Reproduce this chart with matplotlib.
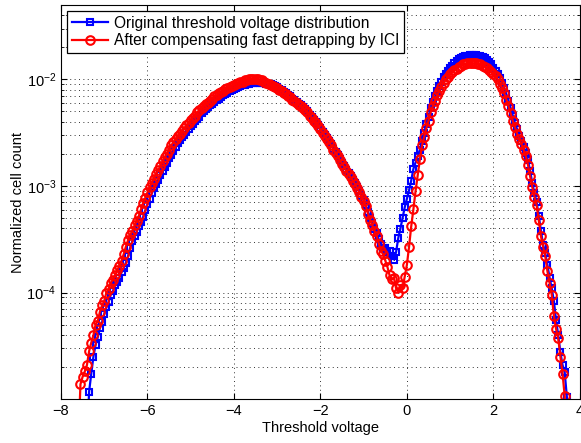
import numpy as np
import matplotlib
matplotlib.use('Agg')
import matplotlib.pyplot as plt

plt.rcParams['font.family'] = ['Liberation Sans', 'DejaVu Sans']

# threshold voltage grid: first value and spacing (V)
v_step = 0.05
red_v0 = -7.60
blue_v0 = -7.40

# log10 of normalized cell count
orig_log10 = [
    -5.40, -4.93, -4.76, -4.60, -4.49, -4.42, -4.33, -4.28, -4.20, -4.14, -4.09, -4.02, -3.99, -3.93, -3.90, -3.86, -3.81, -3.77, -3.72, -3.66,
    -3.58, -3.52, -3.47, -3.43, -3.38, -3.34, -3.29, -3.23, -3.17, -3.12, -3.07, -3.02, -2.98, -2.94, -2.90, -2.86, -2.82, -2.78, -2.74, -2.71,
    -2.67, -2.63, -2.60, -2.57, -2.54, -2.52, -2.49, -2.47, -2.44, -2.42, -2.39, -2.37, -2.35, -2.32, -2.30, -2.28, -2.26, -2.24, -2.23, -2.21,
    -2.19, -2.18, -2.17, -2.15, -2.14, -2.13, -2.11, -2.10, -2.09, -2.08, -2.07, -2.06, -2.05, -2.05, -2.04, -2.04, -2.03, -2.03, -2.03, -2.03,
    -2.03, -2.03, -2.03, -2.04, -2.04, -2.04, -2.05, -2.06, -2.07, -2.09, -2.10, -2.12, -2.13, -2.15, -2.16, -2.18, -2.19, -2.21, -2.23, -2.24,
    -2.26, -2.28, -2.30, -2.33, -2.35, -2.38, -2.40, -2.43, -2.46, -2.49, -2.52, -2.55, -2.58, -2.61, -2.65, -2.68, -2.71, -2.75, -2.78, -2.81,
    -2.85, -2.88, -2.91, -2.94, -2.97, -3.01, -3.05, -3.09, -3.13, -3.18, -3.24, -3.30, -3.35, -3.40, -3.44, -3.50, -3.54, -3.58, -3.58, -3.62,
    -3.61, -3.66, -3.69, -3.62, -3.49, -3.40, -3.30, -3.20, -3.12, -3.04, -2.95, -2.84, -2.78, -2.72, -2.66, -2.58, -2.50, -2.42, -2.35, -2.27,
    -2.21, -2.16, -2.11, -2.06, -2.02, -1.98, -1.95, -1.92, -1.89, -1.87, -1.85, -1.83, -1.81, -1.80, -1.79, -1.78, -1.78, -1.77, -1.77, -1.77,
    -1.77, -1.78, -1.78, -1.79, -1.80, -1.82, -1.84, -1.86, -1.89, -1.92, -1.95, -1.99, -2.03, -2.08, -2.14, -2.20, -2.27, -2.34, -2.41, -2.47,
    -2.53, -2.58, -2.63, -2.69, -2.76, -2.86, -2.97, -3.07, -3.15, -3.28, -3.42, -3.55, -3.63, -3.74, -3.86, -3.96, -4.08, -4.26, -4.40, -4.56,
    -4.68, -4.75, -4.98, -5.40,
]

comp_log10 = [
    -5.40, -4.86, -4.79, -4.74, -4.68, -4.55, -4.47, -4.40, -4.30, -4.27, -4.18, -4.12, -4.08, -4.00, -3.97, -3.91, -3.88, -3.84, -3.79, -3.75,
    -3.70, -3.64, -3.57, -3.51, -3.46, -3.42, -3.37, -3.33, -3.28, -3.22, -3.16, -3.11, -3.06, -3.01, -2.97, -2.93, -2.89, -2.85, -2.81, -2.77,
    -2.73, -2.70, -2.66, -2.62, -2.59, -2.56, -2.53, -2.51, -2.48, -2.46, -2.43, -2.41, -2.38, -2.36, -2.34, -2.31, -2.29, -2.27, -2.25, -2.23,
    -2.22, -2.20, -2.18, -2.16, -2.15, -2.13, -2.12, -2.11, -2.09, -2.08, -2.07, -2.06, -2.05, -2.04, -2.03, -2.02, -2.02, -2.01, -2.01, -2.00,
    -2.00, -2.00, -2.00, -2.00, -2.01, -2.01, -2.02, -2.03, -2.04, -2.05, -2.06, -2.07, -2.08, -2.10, -2.11, -2.13, -2.14, -2.16, -2.17, -2.19,
    -2.20, -2.22, -2.24, -2.25, -2.27, -2.29, -2.31, -2.34, -2.36, -2.39, -2.41, -2.44, -2.47, -2.50, -2.53, -2.56, -2.59, -2.62, -2.66, -2.69,
    -2.72, -2.76, -2.79, -2.82, -2.86, -2.89, -2.92, -2.95, -2.98, -3.02, -3.06, -3.10, -3.14, -3.19, -3.26, -3.32, -3.37, -3.42, -3.47, -3.54,
    -3.61, -3.64, -3.70, -3.76, -3.84, -3.87, -3.86, -3.96, -4.00, -3.93, -3.96, -3.85, -3.74, -3.57, -3.38, -3.22, -3.05, -2.90, -2.75, -2.62,
    -2.54, -2.46, -2.39, -2.31, -2.25, -2.20, -2.15, -2.11, -2.07, -2.03, -2.00, -1.98, -1.95, -1.93, -1.91, -1.90, -1.88, -1.87, -1.86, -1.86,
    -1.85, -1.85, -1.85, -1.85, -1.85, -1.86, -1.86, -1.87, -1.88, -1.89, -1.91, -1.93, -1.95, -1.97, -2.00, -2.04, -2.08, -2.13, -2.19, -2.25,
    -2.32, -2.39, -2.45, -2.51, -2.56, -2.61, -2.66, -2.72, -2.80, -2.91, -3.01, -3.10, -3.18, -3.32, -3.47, -3.57, -3.66, -3.80, -3.91, -4.02,
    -4.22, -4.34, -4.43, -4.60, -4.76, -4.97, -5.40,
]

labels = ['Original threshold voltage distribution',
          'After compensating fast detrapping by ICI']

orig_v = blue_v0 + v_step * np.arange(len(orig_log10))
comp_v = red_v0 + v_step * np.arange(len(comp_log10))
orig_y = 10.0 ** np.array(orig_log10)
comp_y = 10.0 ** np.array(comp_log10)

fig = plt.figure(figsize=(5.81, 4.43), dpi=100)
ax = fig.add_axes([0.105, 0.099, 0.893, 0.89])

ax.semilogy(orig_v, orig_y, '-s', color='b', lw=1.6, ms=5, mfc='none', mew=1.5,
            label=labels[0])
ax.semilogy(comp_v, comp_y, '-o', color='r', lw=1.6, ms=6.2, mfc='none', mew=1.5,
            label=labels[1])

ax.set_xlim(-8, 4)
ax.set_ylim(1e-5, 5e-2)
ax.set_xticks([-8, -6, -4, -2, 0, 2, 4])
ax.set_xticklabels(['\u22128', '\u22126', '\u22124', '\u22122', '0', '2', '4'])
ax.set_yticks([1e-4, 1e-3, 1e-2])

dots = (0, (1, 3.5))
ax.grid(True, which='major', axis='both', ls=dots, color='0.2', lw=0.7)
ax.grid(True, which='minor', axis='y', ls=dots, color='0.2', lw=0.7)
ax.tick_params(which='both', direction='in', top=True, right=True, labelsize=10.5)
ax.tick_params(which='major', length=4)
ax.tick_params(which='minor', length=2)
for s in ax.spines.values():
    s.set_linewidth(0.8)

ax.set_xlabel('Threshold voltage', fontsize=10.5, labelpad=2)
ax.set_ylabel('Normalized cell count', fontsize=10.5, labelpad=1)

leg = ax.legend(loc='upper left', fontsize=11.2, fancybox=False, framealpha=1,
                edgecolor='k', borderaxespad=0.4, handlelength=2.3,
                borderpad=0.3, labelspacing=0.15, handletextpad=0.4)
leg.get_frame().set_linewidth(0.9)

fig.savefig('out.png', dpi=100)
